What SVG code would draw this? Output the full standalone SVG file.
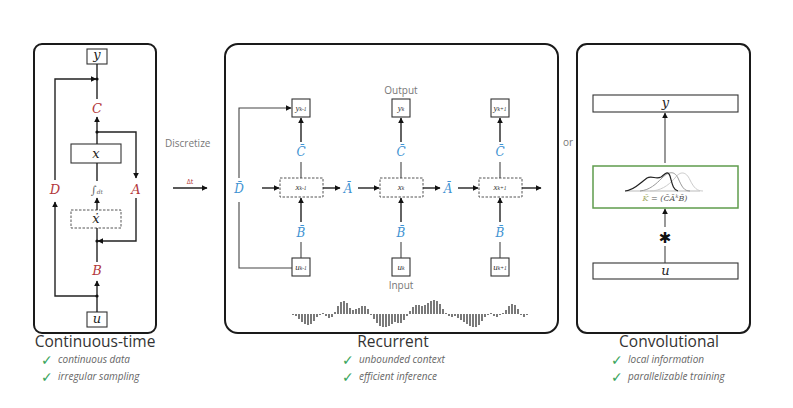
<svg xmlns="http://www.w3.org/2000/svg" width="793" height="408" viewBox="0 0 793 408">
<style>
.panel{fill:none;stroke:#1a1a1a;stroke-width:2}
.box{fill:#fff;stroke:#333;stroke-width:1.1}
.dbox{fill:#fff;stroke:#555;stroke-width:1;stroke-dasharray:2.5 1.5}
.ln{fill:none;stroke:#222;stroke-width:1.4}
.thin{fill:none;stroke:#444;stroke-width:1.1}
.arr{marker-end:url(#ah)}
.m{font-family:"DejaVu Serif","Liberation Serif",serif;font-style:italic;text-anchor:middle}
.red{fill:#b3373b;font-size:13px}
.blue{fill:#3f93d2;font-size:12px}
.blk{fill:#222;font-size:13px}
.sub{font-family:"Liberation Serif",serif;font-style:italic;fill:#333;text-anchor:middle;font-size:9px}
.lab{font-family:"Open Sans",sans-serif;fill:#777;font-size:10px}
.title{font-family:"Open Sans",sans-serif;fill:#333;font-size:15.5px;text-anchor:middle}
.feat{font-family:"Open Sans",sans-serif;font-style:italic;fill:#666;font-size:10px}
.chk{font-family:"DejaVu Sans",sans-serif;fill:#3aa55c;font-size:14px;font-weight:bold}
.dot{fill:#111}
</style>
<defs>
<marker id="ah" viewBox="0 0 10 10" refX="9" refY="5" markerWidth="6" markerHeight="6" markerUnits="userSpaceOnUse" orient="auto">
<path d="M0 0 L10 5 L0 10 z" fill="#111"/>
</marker>
</defs>

<!-- Continuous-time panel -->
<g id="continuous">
<rect class="panel" x="34" y="44" width="122" height="289" rx="8"/>
<g id="ct-y"><rect class="box" x="87" y="49" width="20" height="15"/><text class="m blk" x="97" y="59">y</text></g>
<g id="ct-C"><text class="m red" x="97" y="113">C</text></g>
<g id="ct-x"><rect class="box" x="71" y="144" width="50" height="19"/><text class="m blk" x="96" y="158">x</text></g>
<g id="ct-int"><text x="97" y="194" style="font-family:'DejaVu Serif',serif;font-size:11px;fill:#666;text-anchor:middle">∫<tspan style="font-size:6px;font-style:italic">dt</tspan></text></g>
<g id="ct-xdot"><rect class="dbox" x="71" y="210" width="50" height="18"/><text class="m blk" x="96" y="223">ẋ</text></g>
<g id="ct-A"><text class="m red" x="136" y="194">A</text></g>
<g id="ct-D"><text class="m red" x="55" y="194">D</text></g>
<g id="ct-B"><text class="m red" x="97" y="275">B</text></g>
<g id="ct-u"><rect class="box" x="87" y="312" width="20" height="15"/><text class="m blk" x="97" y="323">u</text></g>
</g>
<g id="ct-connectors">
<path class="ln" d="M97 64 V99"/>
<path class="ln arr" d="M97 144 V117"/>
<path class="ln arr" d="M97 132 H136 V178"/>
<path class="ln" d="M97 163 V181"/>
<path class="ln arr" d="M97 210 V198"/>
<path class="ln arr" d="M136 198 V241 H98"/>
<path class="ln" d="M97 228 V262"/>
<path class="ln arr" d="M97 312 V281"/>
<path class="ln arr" d="M97 296 H55 V202"/>
<path class="ln arr" d="M55 180 V79 H96"/>
<circle class="dot" cx="97" cy="79" r="1.6"/>
<circle class="dot" cx="97" cy="132" r="1.6"/>
<circle class="dot" cx="97" cy="241" r="1.6"/>
<circle class="dot" cx="97" cy="296" r="1.6"/>
</g>
<text class="title" x="95" y="347">Continuous-time</text>
<text class="chk" x="41" y="365">✓</text><text class="feat" x="58" y="363">continuous data</text>
<text class="chk" x="41" y="382">✓</text><text class="feat" x="58" y="380">irregular sampling</text>

<!-- Discretize -->
<text class="lab" x="165" y="147">Discretize</text>
<text x="190" y="184" style="font-family:'Open Sans',sans-serif;font-size:7px;fill:#b3373b;text-anchor:middle">Δt</text>
<path class="ln arr" d="M173 188 H207"/>

<!-- Recurrent panel -->
<g id="recurrent">
<rect class="panel" x="225" y="44" width="333" height="289" rx="13"/>
<text class="lab" x="401" y="94" text-anchor="middle">Output</text>
<text class="lab" x="401" y="289" text-anchor="middle">Input</text>
<g id="r-D"><text class="m blue" x="239" y="193">D̄</text></g>
<g id="r-y1"><rect class="box" x="292" y="99" width="18" height="18"/><text class="sub" x="301" y="111">y<tspan font-size="5.5">k-1</tspan></text></g>
<g id="r-y2"><rect class="box" x="392" y="99" width="18" height="18"/><text class="sub" x="401" y="111">y<tspan font-size="5.5">k</tspan></text></g>
<g id="r-y3"><rect class="box" x="491" y="99" width="18" height="18"/><text class="sub" x="500" y="111">y<tspan font-size="5.5">k+1</tspan></text></g>
<g id="r-C1"><text class="m blue" x="301" y="156">C̄</text></g>
<g id="r-C2"><text class="m blue" x="401" y="156">C̄</text></g>
<g id="r-C3"><text class="m blue" x="500" y="156">C̄</text></g>
<g id="r-x1"><rect class="dbox" x="280" y="178" width="43" height="19"/><text class="sub" x="301" y="190">x<tspan font-size="5.5">k-1</tspan></text></g>
<g id="r-x2"><rect class="dbox" x="380" y="178" width="43" height="19"/><text class="sub" x="401" y="190">x<tspan font-size="5.5">k</tspan></text></g>
<g id="r-x3"><rect class="dbox" x="479" y="178" width="43" height="19"/><text class="sub" x="500" y="190">x<tspan font-size="5.5">k+1</tspan></text></g>
<g id="r-A1"><text class="m blue" x="348" y="193">Ā</text></g>
<g id="r-A2"><text class="m blue" x="448" y="193">Ā</text></g>
<g id="r-B1"><text class="m blue" x="301" y="237">B̄</text></g>
<g id="r-B2"><text class="m blue" x="401" y="237">B̄</text></g>
<g id="r-B3"><text class="m blue" x="500" y="237">B̄</text></g>
<g id="r-u1"><rect class="box" x="292" y="258" width="18" height="18"/><text class="sub" x="301" y="270">u<tspan font-size="5.5">k-1</tspan></text></g>
<g id="r-u2"><rect class="box" x="392" y="258" width="18" height="18"/><text class="sub" x="401" y="270">u<tspan font-size="5.5">k</tspan></text></g>
<g id="r-u3"><rect class="box" x="491" y="258" width="18" height="18"/><text class="sub" x="500" y="270">u<tspan font-size="5.5">k+1</tspan></text></g>
</g>
<g id="r-connectors">
<path class="thin arr" d="M239 178 V108 H291"/>
<path class="thin" d="M239 202 V268 H292"/>
<path class="ln arr" d="M262 188 H279"/>
<path class="ln arr" d="M301 142 V118"/><path class="thin" d="M301 162 V178"/>
<path class="ln arr" d="M401 142 V118"/><path class="thin" d="M401 162 V178"/>
<path class="ln arr" d="M500 142 V118"/><path class="thin" d="M500 162 V178"/>
<path class="ln arr" d="M301 222 V198"/><path class="thin" d="M301 242 V258"/>
<path class="ln arr" d="M401 222 V198"/><path class="thin" d="M401 242 V258"/>
<path class="ln arr" d="M500 222 V198"/><path class="thin" d="M500 242 V258"/>
<path class="ln arr" d="M323 188 H340"/><path class="ln arr" d="M358 188 H379"/>
<path class="ln arr" d="M423 188 H440"/><path class="ln arr" d="M458 188 H478"/>
<path class="ln arr" d="M522 188 H541"/>
</g>
<g id="waveform">
<path fill="none" stroke="#333" stroke-width="1.3" d="M293 314v1 M296 314v2 M299 314v5 M302 314v8 M305 314v10 M308 314v11 M311 314v10 M314 314v7 M317 314v3 M320 314v1 M323 314v-1 M326 314v2 M329 314v4 M332 314v3 M335 314v-2 M338 314v-8 M341 314v-12 M344 314v-13 M347 314v-11 M350 314v-6 M353 314v-4 M356 314v-5 M359 314v-6 M362 314v-8 M365 314v-8 M368 314v-5 M371 314v1 M374 314v5 M377 314v9 M380 314v12 M383 314v13 M386 314v13 M389 314v12 M392 314v10 M395 314v8 M398 314v9 M401 314v9 M404 314v6 M407 314v2 M410 314v-3 M413 314v-7 M416 314v-9 M419 314v-9 M422 314v-8 M425 314v-9 M428 314v-11 M431 314v-13 M434 314v-14 M437 314v-13 M440 314v-10 M443 314v-5 M446 314v-1 M449 314v2 M452 314v3 M455 314v2 M458 314v4 M461 314v6 M464 314v8 M467 314v10 M470 314v12 M473 314v13 M476 314v13 M479 314v11 M482 314v7 M485 314v3 M488 314v1 M491 314v-1 M494 314v2 M497 314v3 M500 314v1 M503 314v-1 M506 314v-4 M509 314v-8 M512 314v-10 M515 314v-9 M518 314v-5 M521 314v1 M524 314v3 M527 314v1"/>
</g>
<text class="title" x="393" y="347">Recurrent</text>
<text class="chk" x="342" y="365">✓</text><text class="feat" x="359" y="363">unbounded context</text>
<text class="chk" x="342" y="382">✓</text><text class="feat" x="359" y="380">efficient inference</text>

<text class="lab" x="563" y="146">or</text>

<!-- Convolutional panel -->
<g id="convolutional">
<rect class="panel" x="577" y="44" width="173" height="289" rx="10"/>
<g id="cv-y"><rect class="box" x="593" y="95" width="145" height="17"/><text class="m blk" x="665.5" y="107">y</text></g>
<g id="cv-K">
<rect x="593" y="166" width="145" height="42" fill="#fff" stroke="#5f9c4c" stroke-width="1.5"/>
<path d="M625 191 H700" fill="none" stroke="#bbb" stroke-width="1"/>
<path d="M650 191 C660 191 668 186 675 178 C680 171 686 171 690 180 C694 188 697 191 703 191" fill="none" stroke="#ccc" stroke-width="1"/>
<path d="M640 191 C650 190 656 184 662 178 C668 172 674 170 678 178 C682 187 684 191 690 191" fill="none" stroke="#999" stroke-width="1"/>
<path d="M625 191 C633 191 640 183 647 178 C652 175 656 180 661 177 C665 174 668 170 670 176 C672 183 673 190 678 191" fill="none" stroke="#222" stroke-width="1.2"/>
<text x="665" y="201" style="font-family:'DejaVu Serif',serif;font-style:italic;font-size:8px;fill:#555;text-anchor:middle"><tspan fill="#a6ad6a">K̄</tspan> = (C̄Ā<tspan font-size="5" dy="-3">k</tspan><tspan dy="3">B̄)</tspan></text>
</g>
<g id="cv-u"><rect class="box" x="593" y="263" width="145" height="16"/><text class="m blk" x="665.5" y="275">u</text></g>
</g>
<g id="cv-connectors">
<path class="thin arr" d="M665 163 V113"/>
<path class="thin arr" d="M665 227 V209"/>
<text x="665" y="243" style="font-family:'DejaVu Sans',sans-serif;font-size:15px;font-weight:bold;fill:#111;text-anchor:middle">✱</text>
<path class="thin" d="M665 246 V263"/>
</g>
<text class="title" x="669" y="347">Convolutional</text>
<text class="chk" x="611" y="365">✓</text><text class="feat" x="628" y="363">local information</text>
<text class="chk" x="611" y="382">✓</text><text class="feat" x="628" y="380">parallelizable training</text>
</svg>
